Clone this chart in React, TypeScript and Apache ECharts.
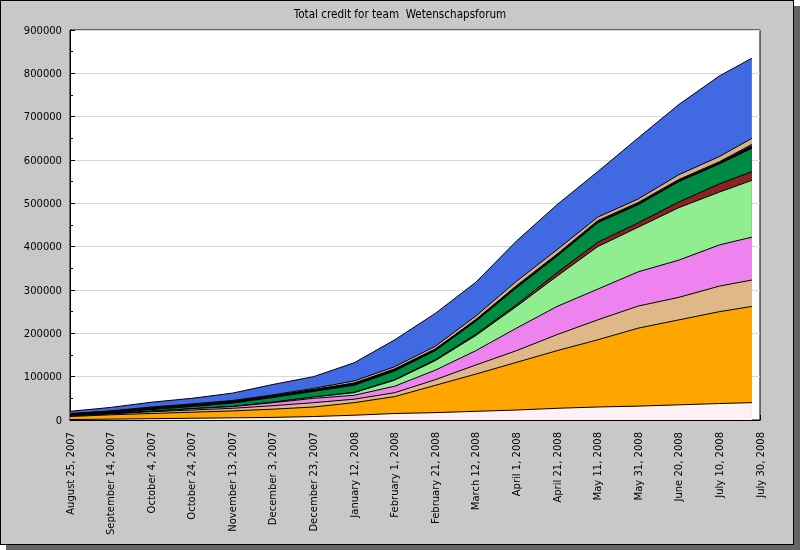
import React, { useEffect, useRef } from "react";
import * as echarts from "echarts";

// Sample dates (every 20 days from the axis start, plus the last data day)
const dates = [
  "2007-08-25", "2007-09-14", "2007-10-04", "2007-10-24", "2007-11-13", "2007-12-03",
  "2007-12-23", "2008-01-12", "2008-02-01", "2008-02-21", "2008-03-12", "2008-04-01",
  "2008-04-21", "2008-05-11", "2008-05-31", "2008-06-20", "2008-07-10", "2008-07-26",
];

// Credit of each stacked layer (bottom to top), in thousands
const layerA = [1, 2, 3, 4, 5, 6, 8, 11, 15, 17, 20, 23, 27, 30, 32, 35, 38, 40];
const layerB = [7, 10, 12, 14, 16, 19, 22, 29, 39, 63, 86, 110, 133, 155, 180, 196, 212, 222];
const layerC = [1, 2, 4, 5, 6, 8, 10, 8, 9, 13, 21, 27, 37, 46, 51, 52, 59, 61];
const layerD = [0, 0, 1, 3, 4, 7, 10, 9, 15, 22, 33, 52, 65, 71, 79, 86, 95, 99];
const layerE = [0, 0, 0, 0, 0, 1, 3, 6, 14, 22, 35, 50, 70, 98, 103, 121, 122, 131];
const layerF = [0, 0, 0, 0, 0, 0, 0, 1, 1, 2, 3, 4, 8, 10, 10, 13, 19, 20];
const layerG = [1, 2, 4, 5, 8, 11, 13, 16, 20, 21, 30, 39, 38, 45, 42, 47, 46, 54];
const layerH = [4, 4, 4, 4, 4, 4, 4, 5, 4, 3, 3, 3, 3, 3, 3, 3, 3, 6];
const layerI = [0, 0, 0, 0, 0, 0, 0, 0, 1, 1, 1, 2, 2, 2, 2, 2, 2, 3];
const layerJ = [1, 1, 2, 2, 2, 2, 3, 5, 5, 6, 8, 10, 10, 8, 8, 11, 12, 14];
const layerK = [5, 8, 11, 13, 17, 24, 27, 42, 62, 76, 78, 93, 104, 105, 141, 162, 186, 185];

const layers = [layerA, layerB, layerC, layerD, layerE, layerF, layerG, layerH, layerI, layerJ, layerK];
const layerColors = [
  "#fff0f5", "#ffa500", "#deb887", "#ee82ee", "#90ee90", "#8b2323",
  "#008b45", "#000000", "#fa8072", "#d2b48c", "#4169e1",
];

const yTicks = [0, 100000, 200000, 300000, 400000, 500000, 600000, 700000, 800000, 900000];
const axisStart = "2007-08-25";
const axisEnd = "2008-07-30";
const tickStepDays = 20;

const monthNames = [
  "January", "February", "March", "April", "May", "June",
  "July", "August", "September", "October", "November", "December",
];
const DAY = 86400000;
const startMs = Date.parse(axisStart);
const toDay = (s: string) => Math.round((Date.parse(s) - startMs) / DAY);
const dayLabel = (d: number) => {
  const dt = new Date(startMs + d * DAY);
  return `${monthNames[dt.getUTCMonth()]} ${dt.getUTCDate()}, ${dt.getUTCFullYear()}`;
};

export default function App() {
  const ref = useRef<HTMLDivElement>(null);
  useEffect(() => {
    if (!ref.current) return;
    const chart = echarts.init(ref.current, null, { renderer: "svg" });
    const xs = dates.map(toDay);
    // running totals (stack) of the layers
    const running = dates.map(() => 0);
    const stacked = layers.map((arr) => arr.map((v, j) => (running[j] += v * 1000)));
    const font = "DejaVu Sans";
    const n = layers.length;
    chart.setOption({
      animation: false,
      backgroundColor: "transparent",
      title: {
        text: "Total credit for team  Wetenschapsforum",
        left: "center",
        top: 3,
        textStyle: { fontFamily: "DejaVu Sans Condensed, DejaVu Sans", fontSize: 11.6, fontWeight: "normal", color: "#000" },
      },
      grid: {
        left: 70, right: 40, top: 30, bottom: 130,
        show: true, backgroundColor: "#ffffff", borderColor: "#000", borderWidth: 1,
      },
      xAxis: {
        type: "value",
        min: 0,
        max: toDay(axisEnd),
        interval: tickStepDays,
        axisLine: { lineStyle: { color: "#000" } },
        axisTick: { inside: true, length: 5, lineStyle: { color: "#000" } },
        splitLine: { show: false },
        axisLabel: {
          rotate: 90, margin: 12, fontFamily: font, fontSize: 10, color: "#000",
          formatter: (v: number) => dayLabel(v),
        },
      },
      yAxis: {
        type: "value",
        min: yTicks[0],
        max: yTicks[yTicks.length - 1],
        interval: yTicks[1] - yTicks[0],
        axisLine: { show: true, lineStyle: { color: "#000" } },
        axisTick: { inside: true, length: 5, lineStyle: { color: "#000" } },
        minorTick: { show: true, splitNumber: 2, length: 3, lineStyle: { color: "#000" } },
        splitLine: { lineStyle: { color: "#d9d9d9" } },
        axisLabel: { fontFamily: font, fontSize: 10, color: "#000", formatter: (v: number) => String(v) },
      },
      series: stacked.map((arr, i) => ({
        type: "line",
        showSymbol: false,
        symbol: "none",
        data: arr.map((v, j) => [xs[j], v]),
        lineStyle: { color: "#000", width: 1 },
        areaStyle: { color: layerColors[i], opacity: 1, origin: "start" },
        itemStyle: { color: layerColors[i] },
        z: 2 + (n - i),
      })),
    });
    return () => chart.dispose();
  }, []);

  return (
    <div style={{ position: "fixed", left: 0, top: 0, width: 800, height: 550 }}>
      <div
        style={{
          position: "absolute", left: 0, top: 0, width: 792, height: 543,
          background: "#c8c8c8", border: "1px solid #000",
          boxShadow: "6px 6px 0 #646464",
        }}
      />
      <div ref={ref} style={{ position: "absolute", left: 0, top: 0, width: 800, height: 550 }} />
    </div>
  );
}
